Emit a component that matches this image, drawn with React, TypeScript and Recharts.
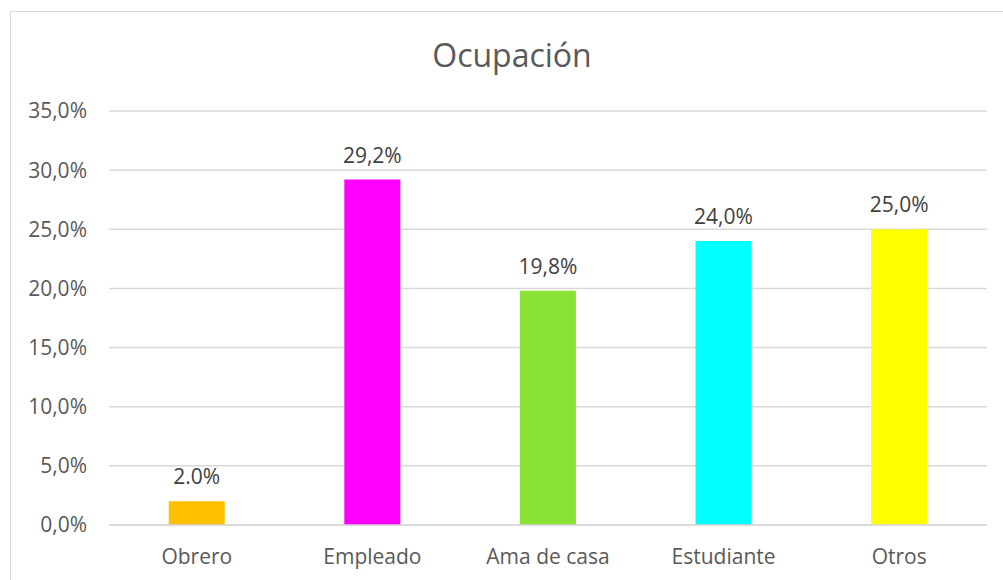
import React from "react";
import { BarChart, Bar, XAxis, YAxis, CartesianGrid, Cell, LabelList } from "recharts";

const categories = ["Obrero", "Empleado", "Ama de casa", "Estudiante", "Otros"];
const values = [2.0, 29.2, 19.8, 24.0, 25.0];
const valueLabels = ["2.0%", "29,2%", "19,8%", "24,0%", "25,0%"];
const colors = ["#FFC000", "#FF00FF", "#89E234", "#00FFFF", "#FFFF00"];
const yTicks = [0, 5, 10, 15, 20, 25, 30, 35];
const yTickLabels = ["0,0%", "5,0%", "10,0%", "15,0%", "20,0%", "25,0%", "30,0%", "35,0%"];

const data = categories.map((c, i) => ({ name: c, value: values[i], label: valueLabels[i] }));

const FONT = "'Open Sans', sans-serif";

export default function App() {
  return (
    <div style={{ position: "absolute", left: 0, top: 0, width: 1003, height: 580, overflow: "hidden", background: "#fff", fontFamily: FONT }}>
      <div style={{ position: "absolute", left: 10, top: 11, width: 1010, height: 620, border: "1px solid #d9d9d9", boxSizing: "border-box" }} />
      <div style={{ position: "absolute", left: 0, width: 1024, top: 34, textAlign: "center", fontSize: 32, color: "#595959", lineHeight: "42px" }}>
        Ocupación
      </div>
      <div style={{ position: "absolute", left: 0, top: 0 }}>
        <BarChart width={1003} height={580} data={data} margin={{ top: 111, right: 16, bottom: 15, left: 29 }} barCategoryGap="34%">
          <CartesianGrid vertical={false} stroke="#d9d9d9" strokeWidth={1.5} />
          <XAxis
            dataKey="name"
            axisLine={{ stroke: "#d9d9d9", strokeWidth: 1.5 }}
            tickLine={false}
            tickMargin={18}
            height={40}
            tick={{ fill: "#595959", fontSize: 21, fontFamily: FONT }}
            interval={0}
          />
          <YAxis
            domain={[0, 35]}
            ticks={yTicks}
            width={80}
            axisLine={false}
            tickLine={false}
            tickMargin={16}
            tickFormatter={(v: number) => yTickLabels[yTicks.indexOf(v)]}
            tick={{ fill: "#595959", fontSize: 21, fontFamily: FONT }}
          />
          <Bar dataKey="value" isAnimationActive={false}>
            {data.map((d, i) => (
              <Cell key={d.name} fill={colors[i]} />
            ))}
            <LabelList dataKey="label" position="top" offset={17} fill="#404040" fontSize={21} fontFamily={FONT} />
          </Bar>
        </BarChart>
      </div>
    </div>
  );
}
